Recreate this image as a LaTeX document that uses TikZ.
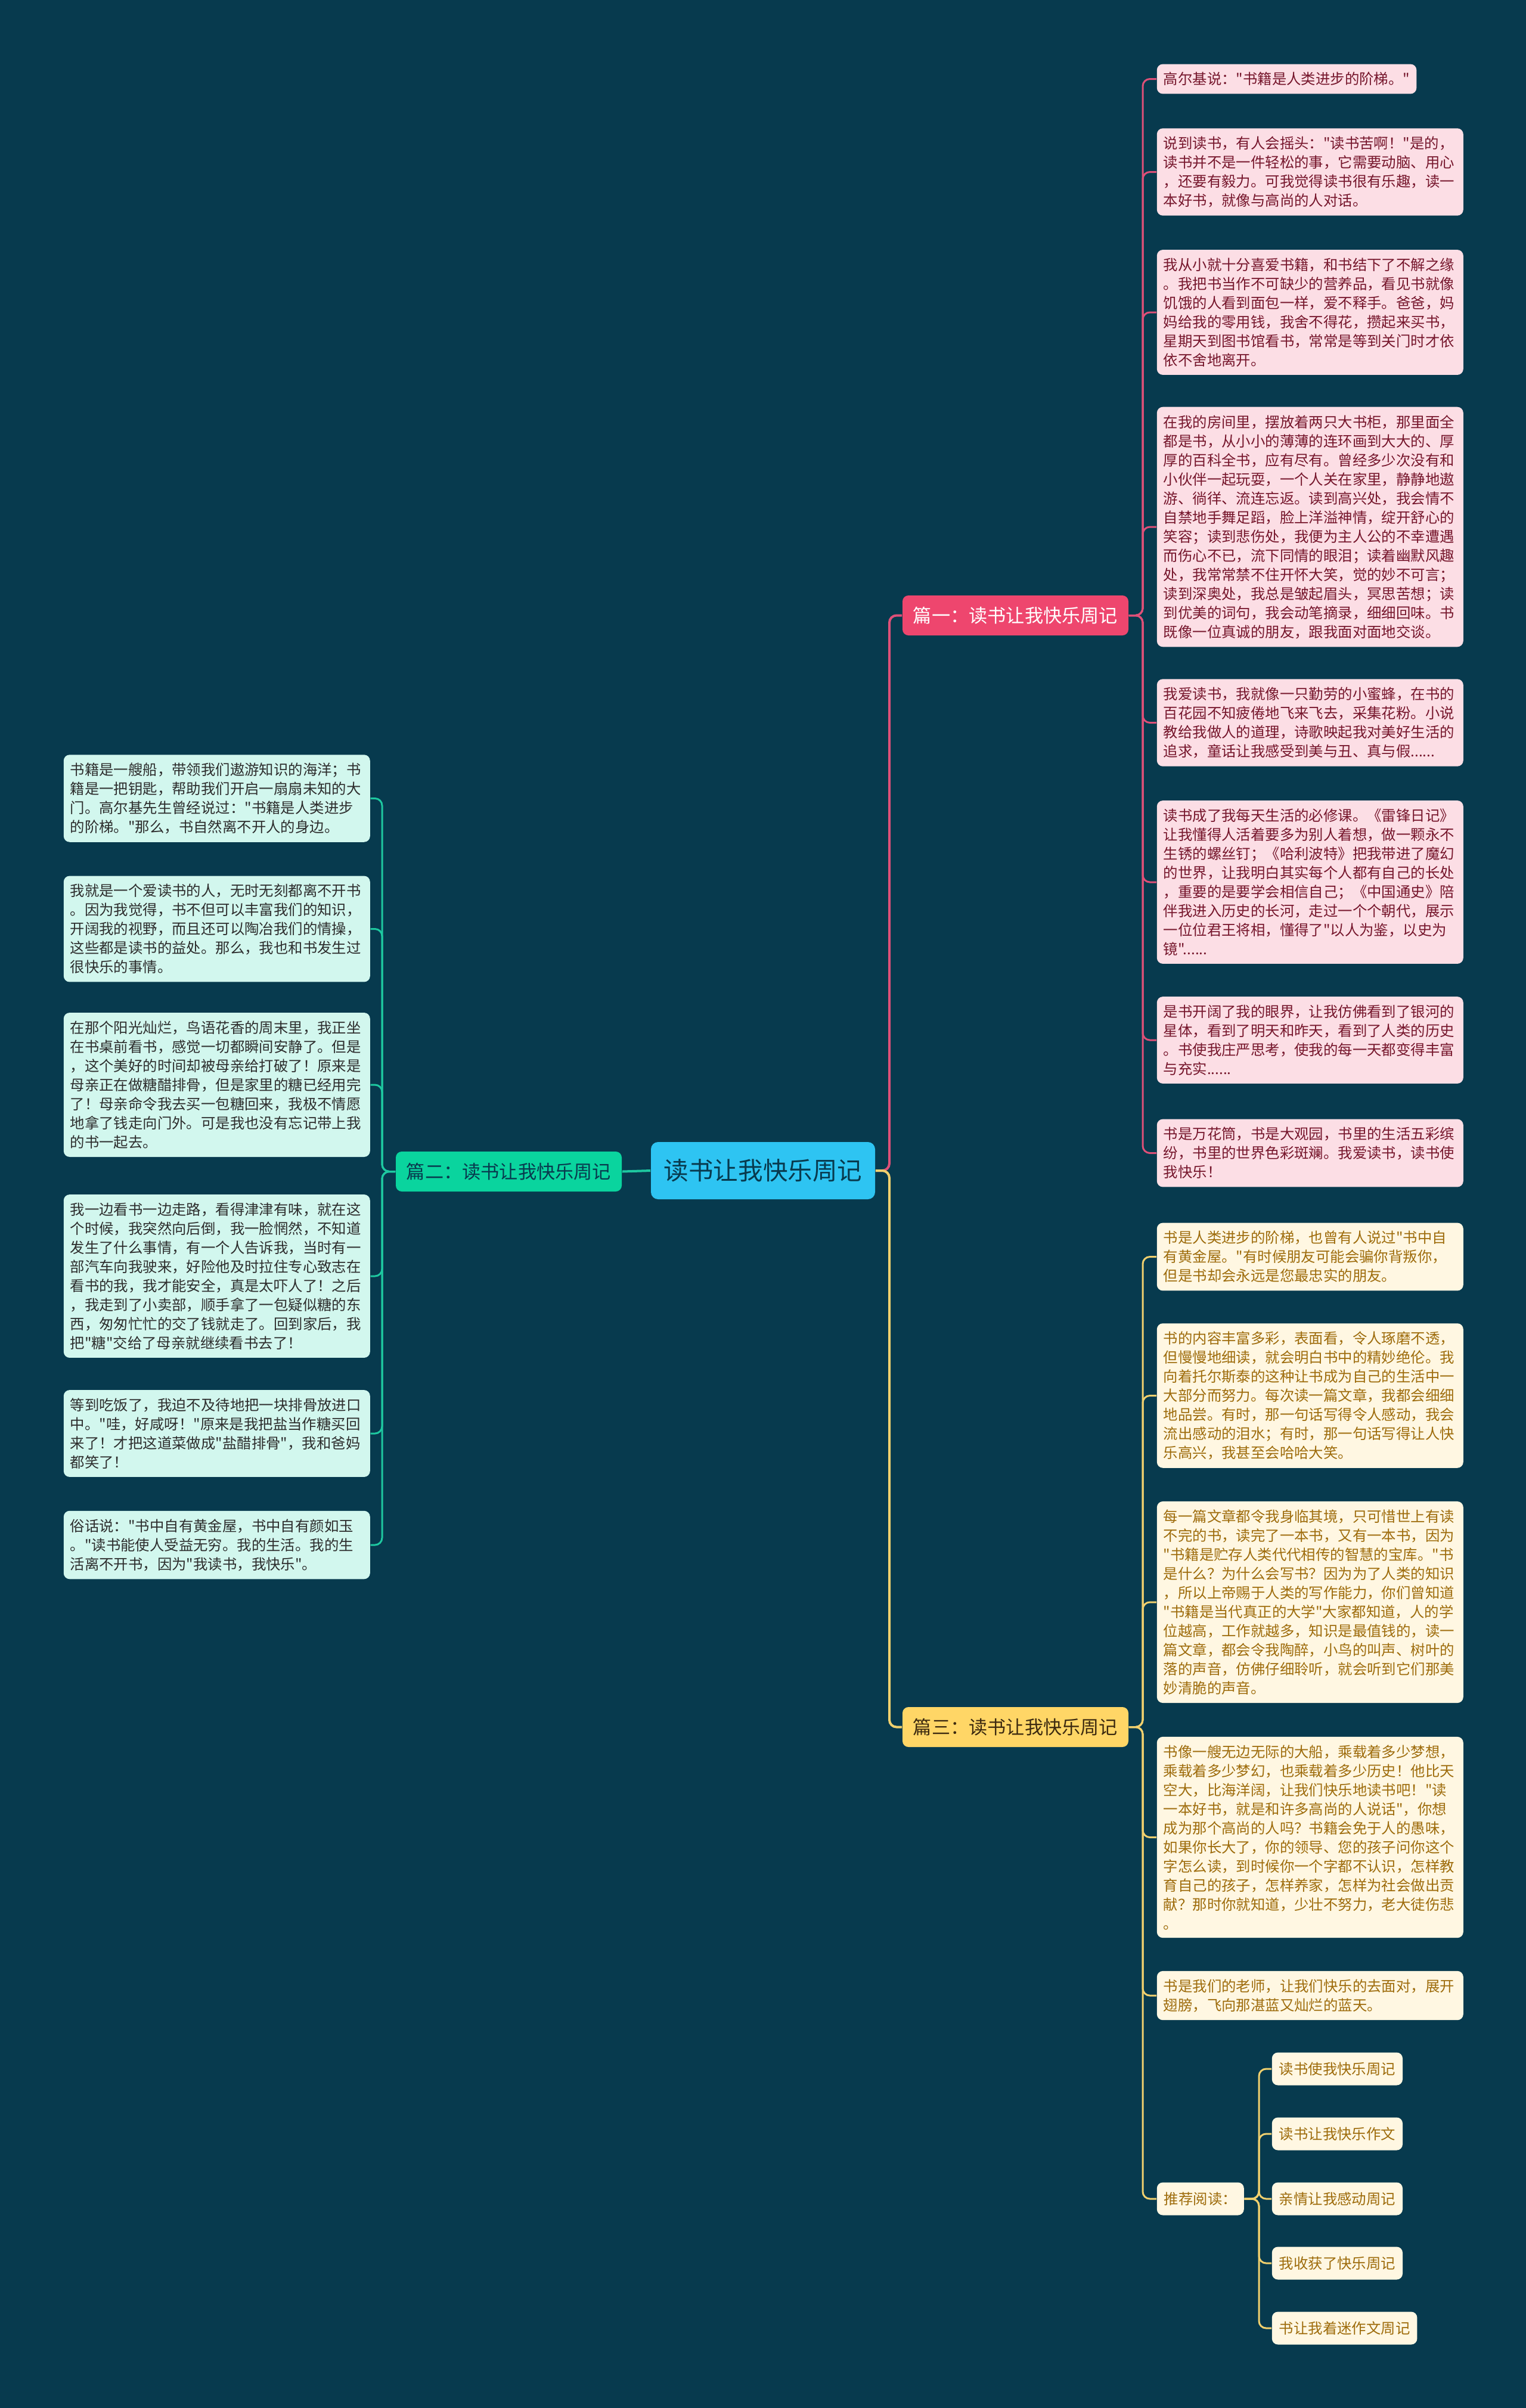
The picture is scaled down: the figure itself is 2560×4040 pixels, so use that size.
\documentclass[tikz,border=0pt]{standalone}
\usepackage{fontspec}
\newfontfamily\cjk{Noto Sans CJK SC}
\definecolor{cBg}{RGB}{7,58,78}
\definecolor{cMain}{RGB}{46,196,242}
\definecolor{cDark}{RGB}{8,58,78}
\definecolor{cPink}{RGB}{238,70,110}
\definecolor{cPinkE}{RGB}{222,80,120}
\definecolor{cPinkL}{RGB}{252,222,229}
\definecolor{cPinkT}{RGB}{118,22,44}
\definecolor{cGreen}{RGB}{10,212,158}
\definecolor{cGreenE}{RGB}{30,200,160}
\definecolor{cGreenL}{RGB}{210,247,238}
\definecolor{cGreenT}{RGB}{45,45,45}
\definecolor{cYel}{RGB}{255,214,102}
\definecolor{cYelE}{RGB}{240,208,110}
\definecolor{cYelL}{RGB}{255,247,226}
\definecolor{cYelT}{RGB}{158,108,12}
\definecolor{cYelD}{RGB}{60,42,16}

\begin{document}
\begin{tikzpicture}[x=0.25pt, y=-0.25pt,
    leaf/.style={rounded corners=2.5pt, inner xsep=2.75pt, inner ysep=3.4pt,
                 font=\fontsize{6.1}{8}\cjk, align=left, anchor=west},
    wide/.style={text width=123pt},
    pleaf/.style={leaf, fill=cPinkL, text=cPinkT},
    gleaf/.style={leaf, wide, fill=cGreenL, text=cGreenT},
    yleaf/.style={leaf, fill=cYelL, text=cYelT},
    rbox/.style={yleaf, inner xsep=3pt, minimum height=13.75pt},
    branch/.style={rounded corners=2.5pt, font=\fontsize{7.8}{9}\cjk,
                   minimum width=94.75pt, minimum height=16.75pt},
    edge/.style={line width=0.75pt, rounded corners=3pt},
    pedge/.style={edge, draw=cPinkE},
    gedge/.style={edge, draw=cGreenE},
    yedge/.style={edge, draw=cYelE}]
  \fill[cBg] (0,0) rectangle (2560,4040);
  \useasboundingbox (0,0) rectangle (2560,4040);

  % centre and main branches
  \node[rounded corners=3pt, fill=cMain, text=cDark, font=\fontsize{10.4}{12}\cjk,
        minimum width=94pt, minimum height=24pt] (m) at (1280,1964) {读书让我快乐周记};
  \node[branch, fill=cPink, text=white] (b1) at (1703.5,1032.5) {篇一：读书让我快乐周记};
  \node[branch, fill=cGreen, text=cDark] (b2) at (853.5,1965.5) {篇二：读书让我快乐周记};
  \node[branch, fill=cYel, text=cYelD] (b3) at (1703.5,2897.5) {篇三：读书让我快乐周记};

  % 篇一
  \node[pleaf] (p1) at (1940,132.5) {高尔基说："书籍是人类进步的阶梯。"};
  \node[pleaf, wide] (p2) at (1940,288.5) {说到读书，有人会摇头："读书苦啊！"是的，\\读书并不是一件轻松的事，它需要动脑、用心\\，还要有毅力。可我觉得读书很有乐趣，读一\\本好书，就像与高尚的人对话。};
  \node[pleaf, wide] (p3) at (1940,524) {我从小就十分喜爱书籍，和书结下了不解之缘\\。我把书当作不可缺少的营养品，看见书就像\\饥饿的人看到面包一样，爱不释手。爸爸，妈\\妈给我的零用钱，我舍不得花，攒起来买书，\\星期天到图书馆看书，常常是等到关门时才依\\依不舍地离开。};
  \node[pleaf, wide] (p4) at (1940,884) {在我的房间里，摆放着两只大书柜，那里面全\\都是书，从小小的薄薄的连环画到大大的、厚\\厚的百科全书，应有尽有。曾经多少次没有和\\小伙伴一起玩耍，一个人关在家里，静静地遨\\游、徜徉、流连忘返。读到高兴处，我会情不\\自禁地手舞足蹈，脸上洋溢神情，绽开舒心的\\笑容；读到悲伤处，我便为主人公的不幸遭遇\\而伤心不已，流下同情的眼泪；读着幽默风趣\\处，我常常禁不住开怀大笑，觉的妙不可言；\\读到深奥处，我总是皱起眉头，冥思苦想；读\\到优美的词句，我会动笔摘录，细细回味。书\\既像一位真诚的朋友，跟我面对面地交谈。};
  \node[pleaf, wide] (p5) at (1940,1212.5) {我爱读书，我就像一只勤劳的小蜜蜂，在书的\\百花园不知疲倦地飞来飞去，采集花粉。小说\\教给我做人的道理，诗歌映起我对美好生活的\\追求，童话让我感受到美与丑、真与假......};
  \node[pleaf, wide] (p6) at (1940,1480) {读书成了我每天生活的必修课。《雷锋日记》\\让我懂得人活着要多为别人着想，做一颗永不\\生锈的螺丝钉；《哈利波特》把我带进了魔幻\\的世界，让我明白其实每个人都有自己的长处\\，重要的是要学会相信自己；《中国通史》陪\\伴我进入历史的长河，走过一个个朝代，展示\\一位位君王将相，懂得了"以人为鉴，以史为\\镜"......};
  \node[pleaf, wide] (p7) at (1940,1745) {是书开阔了我的眼界，让我仿佛看到了银河的\\星体，看到了明天和昨天，看到了人类的历史\\。书使我庄严思考，使我的每一天都变得丰富\\与充实......};
  \node[pleaf, wide] (p8) at (1940,1934.5) {书是万花筒，书是大观园，书里的生活五彩缤\\纷，书里的世界色彩斑斓。我爱读书，读书使\\我快乐！};

  % 篇二
  \node[gleaf] (g1) at (106,1339.5) {书籍是一艘船，带领我们遨游知识的海洋；书\\籍是一把钥匙，帮助我们开启一扇扇未知的大\\门。高尔基先生曾经说过："书籍是人类进步\\的阶梯。"那么，书自然离不开人的身边。};
  \node[gleaf] (g2) at (106,1558.5) {我就是一个爱读书的人，无时无刻都离不开书\\。因为我觉得，书不但可以丰富我们的知识，\\开阔我的视野，而且还可以陶冶我们的情操，\\这些都是读书的益处。那么，我也和书发生过\\很快乐的事情。};
  \node[gleaf] (g3) at (106,1820) {在那个阳光灿烂，鸟语花香的周末里，我正坐\\在书桌前看书，感觉一切都瞬间安静了。但是\\，这个美好的时间却被母亲给打破了！原来是\\母亲正在做糖醋排骨，但是家里的糖已经用完\\了！母亲命令我去买一包糖回来，我极不情愿\\地拿了钱走向门外。可是我也没有忘记带上我\\的书一起去。};
  \node[gleaf] (g4) at (106,2141) {我一边看书一边走路，看得津津有味，就在这\\个时候，我突然向后倒，我一脸惘然，不知道\\发生了什么事情，有一个人告诉我，当时有一\\部汽车向我驶来，好险他及时拉住专心致志在\\看书的我，我才能安全，真是太吓人了！之后\\，我走到了小卖部，顺手拿了一包疑似糖的东\\西，匆匆忙忙的交了钱就走了。回到家后，我\\把"糖"交给了母亲就继续看书去了！};
  \node[gleaf] (g5) at (106,2405) {等到吃饭了，我迫不及待地把一块排骨放进口\\中。"哇，好咸呀！"原来是我把盐当作糖买回\\来了！才把这道菜做成"盐醋排骨"，我和爸妈\\都笑了！};
  \node[gleaf] (g6) at (106,2592) {俗话说："书中自有黄金屋，书中自有颜如玉\\。"读书能使人受益无穷。我的生活。我的生\\活离不开书，因为"我读书，我快乐"。};

  % 篇三
  \node[yleaf, wide] (y1) at (1940,2108.5) {书是人类进步的阶梯，也曾有人说过"书中自\\有黄金屋。"有时候朋友可能会骗你背叛你，\\但是书却会永远是您最忠实的朋友。};
  \node[yleaf, wide] (y2) at (1940,2341.5) {书的内容丰富多彩，表面看，令人琢磨不透，\\但慢慢地细读，就会明白书中的精妙绝伦。我\\向着托尔斯泰的这种让书成为自己的生活中一\\大部分而努力。每次读一篇文章，我都会细细\\地品尝。有时，那一句话写得令人感动，我会\\流出感动的泪水；有时，那一句话写得让人快\\乐高兴，我甚至会哈哈大笑。};
  \node[yleaf, wide] (y3) at (1940,2688) {每一篇文章都令我身临其境，只可惜世上有读\\不完的书，读完了一本书，又有一本书，因为\\"书籍是贮存人类代代相传的智慧的宝库。"书\\是什么？为什么会写书？因为为了人类的知识\\，所以上帝赐于人类的写作能力，你们曾知道\\"书籍是当代真正的大学"大家都知道，人的学\\位越高，工作就越多，知识是最值钱的，读一\\篇文章，都会令我陶醉，小鸟的叫声、树叶的\\落的声音，仿佛仔细聆听，就会听到它们那美\\妙清脆的声音。};
  \node[yleaf, wide] (y4) at (1940,3082.5) {书像一艘无边无际的大船，乘载着多少梦想，\\乘载着多少梦幻，也乘载着多少历史！他比天\\空大，比海洋阔，让我们快乐地读书吧！"读\\一本好书，就是和许多高尚的人说话"，你想\\成为那个高尚的人吗？书籍会免于人的愚味，\\如果你长大了，你的领导、您的孩子问你这个\\字怎么读，到时候你一个字都不认识，怎样教\\育自己的孩子，怎样养家，怎样为社会做出贡\\献？那时你就知道，少壮不努力，老大徒伤悲\\。};
  \node[yleaf, wide] (y5) at (1940,3348) {书是我们的老师，让我们快乐的去面对，展开\\翅膀，飞向那湛蓝又灿烂的蓝天。};
  \node[rbox] (rd) at (1940,3689) {推荐阅读：};
  \node[rbox] (c1) at (2133,3471) {读书使我快乐周记};
  \node[rbox] (c2) at (2133,3580) {读书让我快乐作文};
  \node[rbox] (c3) at (2133,3689) {亲情让我感动周记};
  \node[rbox] (c4) at (2133,3797) {我收获了快乐周记};
  \node[rbox] (c5) at (2133,3906) {书让我着迷作文周记};

  % connectors
  \coordinate (s0) at (1492,1964);
  \coordinate (s1) at (1917,1032.5);
  \coordinate (s2) at (641,1965.5);
  \coordinate (s3) at (1917,2897.5);
  \coordinate (s4) at (2112,3689);
  \draw[gedge, line width=1pt] (m.west) -- (b2.east);
  \draw[pedge, line width=1pt] (m.east) -- (s0) |- (b1.west);
  \draw[yedge, line width=1pt] (m.east) -- (s0) |- (b3.west);
  \foreach \i in {1,...,8} \draw[pedge] (b1.east) -- (s1) |- (p\i.west);
  \foreach \i in {1,...,6} \draw[gedge] (b2.west) -- (s2) |- (g\i.east);
  \foreach \i in {1,...,5} \draw[yedge] (b3.east) -- (s3) |- (y\i.west);
  \draw[yedge] (b3.east) -- (s3) |- (rd.west);
  \foreach \i in {1,...,5} \draw[yedge] (rd.east) -- (s4) |- (c\i.west);
\end{tikzpicture}
\end{document}
